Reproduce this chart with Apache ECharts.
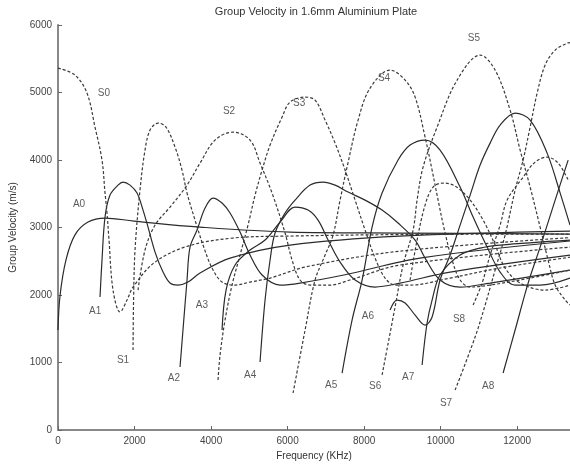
<!DOCTYPE html>
<html>
<head>
<meta charset="utf-8">
<title>Group Velocity in 1.6mm Aluminium Plate</title>
<script src="https://cdn.jsdelivr.net/npm/echarts@6/dist/echarts.min.js"></script>
<style>
    html, body { margin: 0; padding: 0; background: #fff; }
    #chart { width: 570px; height: 466px; }
</style>
</head>
<body>
<div id="chart"></div>
<script>
    // dispersion curves, [frequency kHz, group velocity m/s]
    var A0 = [[0,1480],[52,1985],[209,2520],[444,2890],[784,3080],[1229,3140],[1987,3095],[3712,3006],[6064,2932],[8940,2918],[13380,2903]];
    var S0 = [[0,5361],[444,5258],[758,4991],[967,4487],[1150,3999],[1229,3510],[1281,3214],[1333,2814],[1438,2073],[1621,1748],[1804,1925],[1961,2118],[2536,2488],[3398,2725],[4574,2844],[6064,2873],[8940,2895],[13380,2903]];
    var A1 = [[1098,1970],[1150,2518],[1229,3155],[1359,3480],[1568,3628],[1699,3673],[1882,3628],[2065,3510],[2222,3258],[2353,3006],[2536,2636],[2745,2340],[2928,2177],[3137,2147],[3398,2192],[3712,2325],[4496,2547],[6064,2740],[8940,2873],[13380,2947]];
    var S1 = [[1961,1185],[1975,1925],[2013,2666],[2143,3554],[2274,4147],[2405,4443],[2614,4547],[2823,4487],[3058,4191],[3241,3851],[3372,3510],[3581,3110],[3790,2740],[4026,2399],[4287,2192],[4627,2147],[5019,2192],[5542,2251],[6500,2420],[8940,2650],[13380,2850]];
    var S2 = [[2091,2073],[2274,2666],[2536,3036],[2928,3303],[3372,3628],[3712,3954],[4104,4295],[4574,4413],[5019,4295],[5280,3954],[5594,3510],[5934,2918],[6117,2518],[6326,2222],[6587,2147],[7110,2147],[7633,2222],[8940,2444],[13380,2710]];
    var A2 = [[3189,933],[3372,2222],[3450,2710],[3634,2962],[3843,3288],[4052,3436],[4287,3362],[4496,3214],[4757,2932],[5019,2592],[5333,2296],[5803,2147],[6326,2177],[7500,2300],[9500,2550],[13380,2800]];
    var A3 = [[4287,1481],[4392,2073],[4627,2444],[5019,2666],[5411,2814],[5803,3080],[6195,3303],[6535,3258],[6796,3110],[7058,2814],[7371,2488],[7764,2222],[8286,2118],[8940,2177],[10247,2340],[13380,2592]];
    var S3 = [[4182,741],[4235,1111],[4365,1629],[4548,2147],[4757,2592],[4966,3036],[5150,3480],[5333,3851],[5542,4221],[5855,4635],[6064,4858],[6457,4932],[6718,4887],[6980,4591],[7241,4250],[7502,3851],[7764,3406],[8025,2962],[8286,2547],[8547,2251],[8809,2147],[9201,2147],[10247,2251],[11554,2400],[13380,2560]];
    var A4 = [[5280,1007],[5411,1925],[5542,2518],[5672,2918],[5934,3214],[6195,3406],[6587,3628],[6927,3673],[7241,3628],[7581,3525],[8025,3406],[8469,3258],[8887,3066],[9332,2814],[9593,2547],[9985,2222],[10508,2118],[11292,2177],[13380,2370]];
    var S4 = [[6143,548],[6457,1481],[6718,2222],[6980,2592],[7189,2888],[7371,3406],[7554,3895],[7842,4591],[8156,5065],[8678,5332],[9071,5184],[9332,4932],[9593,4339],[9776,3851],[9933,3406],[10116,2918],[10299,2518],[10508,2222],[10770,2118],[11292,2147],[12338,2251],[13380,2370]];
    var A5 = [[7424,844],[7685,1629],[7947,2222],[8208,3006],[8469,3510],[8887,3999],[9201,4221],[9593,4295],[9985,4147],[10508,3599],[10848,3155],[11214,2710],[11554,2340],[11946,2147],[12599,2147],[13380,2251]];
    var S5 = [[8469,815],[8809,1822],[9018,2444],[9280,2962],[9384,3406],[9541,3895],[9907,4487],[10430,5184],[11031,5554],[11423,5332],[11815,4739],[12077,4147],[12338,3599],[12599,3006],[12808,2518],[12992,2147],[13253,1925],[13380,1851]];
    var A6 = [[8678,1777],[8861,1925],[9071,1881],[9332,1703],[9593,1555],[9776,1674],[9985,2222],[10247,2592],[10508,3036],[10770,3480],[11031,3925],[11292,4250],[11554,4517],[11946,4695],[12338,4591],[12782,4102],[13123,3510],[13380,3036]];
    var S6 = [[9201,2222],[9384,2814],[9593,3332],[9802,3599],[10064,3658],[10378,3614],[10770,3406],[11109,3110],[11423,2740],[11684,2399],[12077,2177],[12730,2073],[13380,2147]];
    var A7 = [[9515,963],[9645,1585],[9776,1925],[9985,2296],[10508,2592],[11031,2695],[11554,2740],[13380,2814]];
    var S7 = [[10378,592],[10900,1377],[11162,1851],[11423,2370],[11684,2888],[11946,3554],[12155,4000],[12338,4487],[12521,4991],[12730,5406],[12992,5628],[13306,5731],[13380,5740]];
    var S8 = [[10848,1851],[11083,2177],[11292,2592],[11554,3036],[11737,3406],[12155,3747],[12468,3969],[12782,4043],[13070,3954],[13332,3703]];
    var A8 = [[11632,844],[11946,1481],[12286,2177],[12599,2710],[12992,3406],[13332,3999]];

    var solidModes = {A0: A0, A1: A1, A2: A2, A3: A3, A4: A4, A5: A5, A6: A6, A7: A7, A8: A8};
    var dashedModes = {S0: S0, S1: S1, S2: S2, S3: S3, S4: S4, S5: S5, S6: S6, S7: S7, S8: S8};

    // mode labels placed in data units
    var labelNames = ['S0','A0','A1','S1','A2','A3','S2','A4','S3','S4','S5','A5','S6','A6','A7','S8','S7','A8'];
    var labelFreq  = [1200, 550, 970, 1700, 3030, 3760, 4470, 5020, 6300, 8520, 10870, 7140, 8290, 8100, 9150, 10480, 10140, 11240];
    var labelVel   = [4990, 3350, 1760, 1040, 770, 1850, 4720, 810, 4840, 5210, 5810, 670, 650, 1690, 780, 1640, 400, 650];

    var xTicks = [0, 2000, 4000, 6000, 8000, 10000, 12000];

    var font = 'Liberation Sans, Arial, sans-serif';
    var myChart = echarts.init(document.getElementById('chart'));

    var series = [];
    Object.keys(solidModes).forEach(function (k) {
        series.push({
            name: k, type: 'line', data: solidModes[k], smooth: 0.35,
            showSymbol: false, silent: true,
            lineStyle: {color: '#2b2b2b', width: 1.2}
        });
    });
    Object.keys(dashedModes).forEach(function (k) {
        series.push({
            name: k, type: 'line', data: dashedModes[k], smooth: 0.35,
            showSymbol: false, silent: true,
            lineStyle: {color: '#3a3a3a', width: 1.2, type: [3, 2]}
        });
    });
    series.push({
        type: 'scatter', symbolSize: 0, silent: true,
        data: labelNames.map(function (n, i) { return {name: n, value: [labelFreq[i], labelVel[i]]}; }),
        label: {show: true, formatter: '{b}', color: '#333', fontSize: 10, fontFamily: font, position: 'inside'}
    });

    myChart.setOption({
        animation: false,
        backgroundColor: '#fff',
        title: {
            text: 'Group Velocity in 1.6mm Aluminium Plate',
            left: 311, top: 1, textAlign: 'center',
            textStyle: {fontSize: 11, fontWeight: 'normal', color: '#333', fontFamily: font}
        },
        grid: {left: 58, right: 0, top: 25, bottom: 36, outerBoundsMode: 'none'},
        xAxis: {
            type: 'value', min: 0, max: 13380, interval: 2000,
            name: 'Frequency (KHz)', nameLocation: 'middle', nameGap: 20,
            nameTextStyle: {fontSize: 10, color: '#333', fontFamily: font},
            axisLine: {lineStyle: {color: '#888', width: 2}},
            axisTick: {inside: true, length: 4, lineStyle: {color: '#666'}, customValues: xTicks},
            axisLabel: {
                fontSize: 10, color: '#444', fontFamily: font, margin: 6,
                customValues: xTicks,
                formatter: function (v) { return String(v); }
            },
            splitLine: {show: false}
        },
        yAxis: {
            type: 'value', min: 0, max: 6000, interval: 1000,
            name: 'Group Velocity (m/s)', nameLocation: 'middle', nameGap: 40,
            nameTextStyle: {fontSize: 10, color: '#333', fontFamily: font},
            axisLine: {show: true, lineStyle: {color: '#888', width: 2}},
            axisTick: {show: true, inside: true, length: 4, lineStyle: {color: '#666'}},
            axisLabel: {
                fontSize: 10, color: '#444', fontFamily: font, margin: 6,
                formatter: function (v) { return String(v); }
            },
            splitLine: {show: false}
        },
        series: series
    });
</script>
</body>
</html>
